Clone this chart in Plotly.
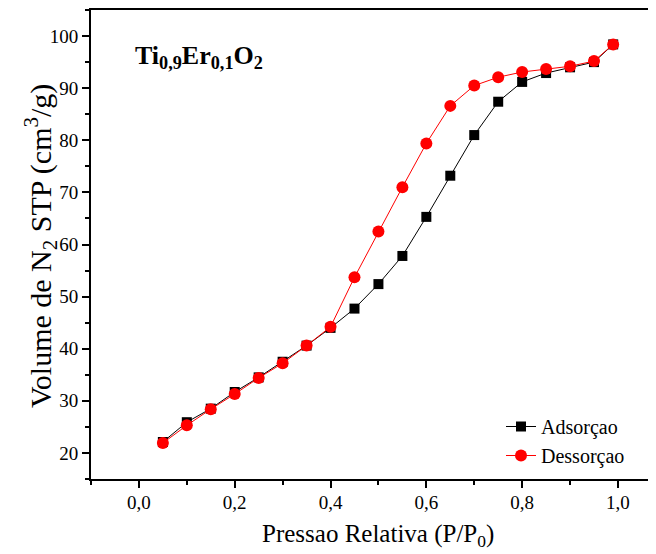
import plotly.graph_objects as go

pressure = [0.05, 0.10, 0.15, 0.20, 0.25, 0.30, 0.35, 0.40, 0.45, 0.50,
            0.55, 0.60, 0.65, 0.70, 0.75, 0.80, 0.85, 0.90, 0.95, 0.99]
adsorcao = [22.1, 25.9, 28.5, 31.7, 34.5, 37.5, 40.6, 44.0, 47.7, 52.4,
            57.8, 65.3, 73.2, 81.0, 87.4, 91.2, 92.9, 94.0, 95.0, 98.4]
dessorcao = [21.9, 25.3, 28.4, 31.3, 34.4, 37.2, 40.6, 44.2, 53.7, 62.5,
             71.0, 79.4, 86.6, 90.5, 92.1, 93.1, 93.7, 94.2, 95.2, 98.4]

x_ticks = [0.0, 0.2, 0.4, 0.6, 0.8, 1.0]
x_labels = ["0,0", "0,2", "0,4", "0,6", "0,8", "1,0"]
y_ticks = [20, 30, 40, 50, 60, 70, 80, 90, 100]

FONT = "Liberation Serif, Times New Roman, serif"

# page body has an 8px margin: figure is drawn from (8, 8) in the window
OFF = 8
W, H = 656 - OFF, 554 - OFF
L, T, R, B = 91 - OFF, 10 - OFF, 0, 554 - 479
PW, PH = W - L - R, H - T - B


def px_x(px):
    return (px - OFF - L) / PW


def px_y(py):
    return (H - B - (py - OFF)) / PH


fig = go.Figure()
fig.add_trace(go.Scatter(
    x=pressure, y=adsorcao, name="Adsorçao", mode="lines+markers",
    line=dict(color="black", width=1),
    marker=dict(symbol="square", size=10, color="black"),
))
fig.add_trace(go.Scatter(
    x=pressure, y=dessorcao, name="Dessorçao", mode="lines+markers",
    line=dict(color="#ff0000", width=1),
    marker=dict(symbol="circle", size=12, color="#ff0000"),
))

fig.update_layout(
    width=W, height=H,
    margin=dict(l=L, r=R, t=T, b=B, autoexpand=False),
    paper_bgcolor="white", plot_bgcolor="white",
    font=dict(family=FONT, color="black", size=19),
    showlegend=True,
    legend=dict(x=px_x(501), y=px_y(407), xanchor="left", yanchor="top",
                bgcolor="rgba(0,0,0,0)", font=dict(size=20, family=FONT),
                tracegroupgap=0, itemwidth=30),
    annotations=[
        dict(text="<b>Ti<sub>0,9</sub>Er<sub>0,1</sub>O<sub>2</sub></b>",
             x=px_x(133), xanchor="left", y=px_y(57), yanchor="middle",
             xref="paper", yref="paper", showarrow=False,
             font=dict(size=26, family=FONT)),
        dict(text="Volume de N<sub>2</sub> STP (cm<sup>3</sup>/g)",
             x=px_x(40), xanchor="center", y=px_y(246), yanchor="middle",
             xref="paper", yref="paper", showarrow=False, textangle=-90,
             font=dict(size=30, family=FONT)),
        dict(text="Pressao Relativa (P/P<sub>0</sub>)",
             x=px_x(378), xanchor="center", y=px_y(535), yanchor="middle",
             xref="paper", yref="paper", showarrow=False,
             font=dict(size=25, family=FONT)),
    ],
)

fig.update_xaxes(
    range=[-0.1, 1.0794], showgrid=False, zeroline=False, automargin=False,
    showline=True, linecolor="black", linewidth=2, mirror=True,
    tickmode="array", tickvals=x_ticks, ticktext=x_labels,
    ticks="outside", ticklen=7, tickwidth=1.5, tickcolor="black",
    minor=dict(dtick=0.1, tick0=0, ticks="outside", ticklen=4, tickwidth=1.5, tickcolor="black"),
    tickfont=dict(size=19, family=FONT), ticklabelstandoff=-2,
)
fig.update_yaxes(
    range=[15, 105], showgrid=False, zeroline=False, automargin=False,
    showline=True, linecolor="black", linewidth=2, mirror=False,
    tickmode="array", tickvals=y_ticks,
    ticks="outside", ticklen=7, tickwidth=1.5, tickcolor="black",
    minor=dict(dtick=5, tick0=15, ticks="outside", ticklen=4, tickwidth=1.5, tickcolor="black"),
    tickfont=dict(size=19, family=FONT),
)

fig.write_html("out.html")
